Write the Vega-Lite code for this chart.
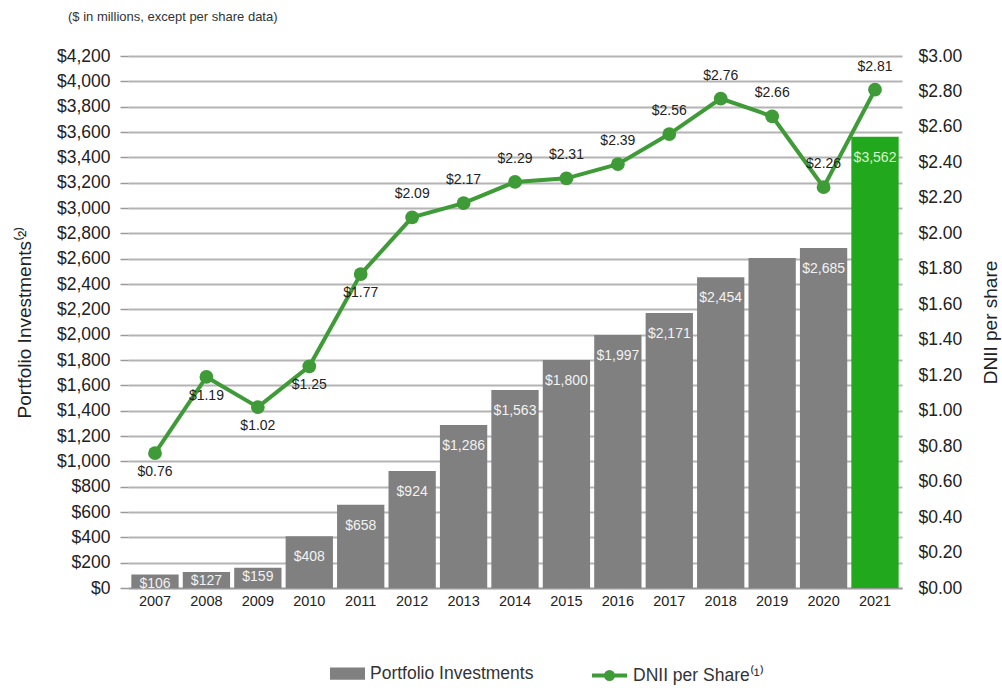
{
  "$schema": "https://vega.github.io/schema/vega-lite/v6.json",
  "autosize": {"type": "none"},
  "width": 774,
  "height": 532,
  "padding": {"left": 128, "top": 56, "right": 100, "bottom": 100},
  "background": "white",
  "config": {
    "font": "Liberation Sans",
    "view": {"stroke": null},
    "legend": {"padding": 0}
  },
  "title": {
    "text": "($ in millions, except per share data)",
    "anchor": "start",
    "frame": "group",
    "orient": "top",
    "dx": -60,
    "offset": 23,
    "fontSize": 13,
    "fontWeight": "normal",
    "color": "#333333",
    "font": "Liberation Sans"
  },
  "data": {
    "values": [
      {"year": "2007", "inv": 106, "dnii": 0.76, "lab": "$106"},
      {"year": "2008", "inv": 127, "dnii": 1.19, "lab": "$127"},
      {"year": "2009", "inv": 159, "dnii": 1.02, "lab": "$159"},
      {"year": "2010", "inv": 408, "dnii": 1.25, "lab": "$408"},
      {"year": "2011", "inv": 658, "dnii": 1.77, "lab": "$658"},
      {"year": "2012", "inv": 924, "dnii": 2.09, "lab": "$924"},
      {"year": "2013", "inv": 1286, "dnii": 2.17, "lab": "$1,286"},
      {"year": "2014", "inv": 1563, "dnii": 2.29, "lab": "$1,563"},
      {"year": "2015", "inv": 1800, "dnii": 2.31, "lab": "$1,800"},
      {"year": "2016", "inv": 1997, "dnii": 2.39, "lab": "$1,997"},
      {"year": "2017", "inv": 2171, "dnii": 2.56, "lab": "$2,171"},
      {"year": "2018", "inv": 2454, "dnii": 2.76, "lab": "$2,454"},
      {"year": "2019", "inv": 2605, "dnii": 2.66, "lab": ""},
      {"year": "2020", "inv": 2685, "dnii": 2.26, "lab": "$2,685"},
      {"year": "2021", "inv": 3562, "dnii": 2.81, "lab": "$3,562"}
    ]
  },
  "encoding": {
    "x": {
      "field": "year",
      "type": "ordinal",
      "scale": {"paddingInner": 0.08, "paddingOuter": 0.065},
      "axis": {
        "title": null,
        "labelAngle": 0,
        "labelFontSize": 14.5,
        "labelColor": "#222222",
        "labelPadding": 6,
        "ticks": false,
        "domainColor": "#999999",
        "domainWidth": 1.5
      }
    }
  },
  "layer": [
    {
      "encoding": {
        "y": {
          "field": "inv",
          "type": "quantitative",
          "scale": {"domain": [0, 4200], "nice": false},
          "axis": {
            "orient": "left",
            "values": [0, 200, 400, 600, 800, 1000, 1200, 1400, 1600, 1800, 2000, 2200, 2400, 2600, 2800, 3000, 3200, 3400, 3600, 3800, 4000, 4200],
            "format": "$,.0f",
            "labelFontSize": 17.5,
            "labelColor": "#222222",
            "labelPadding": 10,
            "tickSize": 8,
            "tickColor": "#999999",
            "tickWidth": 1.5,
            "domain": false,
            "grid": true,
            "gridColor": "#b4b4b4",
            "gridWidth": 2,
            "title": "Portfolio Investments⁽²⁾",
            "titleFontSize": 19,
            "titleFontWeight": "normal",
            "titleColor": "#222222",
            "titlePadding": 22
          }
        }
      },
      "layer": [
        {
          "mark": {"type": "bar"},
          "encoding": {
            "fill": {
              "datum": "Portfolio Investments",
              "scale": {"range": ["#808080"]},
              "condition": {"test": "datum.year === '2021'", "value": "#22a81c"},
              "legend": {
                "orient": "none",
                "legendX": 202,
                "legendY": 600,
                "title": null,
                "symbolType": "M-1,-0.35H1V0.35H-1Z",
                "symbolSize": 1225,
                "symbolStrokeWidth": 0,
                "labelFontSize": 17.5,
                "labelLimit": 400,
                "labelColor": "#333333",
                "labelOffset": 5
              }
            }
          }
        },
        {
          "transform": [{"filter": "datum.inv >= 300"}],
          "mark": {"type": "text", "baseline": "middle", "dy": 21, "fontSize": 14},
          "encoding": {
            "text": {"field": "lab"},
            "color": {"condition": {"test": "datum.year === '2021'", "value": "#d8f5d0"}, "value": "#f2f2f2"}
          }
        },
        {
          "transform": [{"filter": "datum.inv < 300"}],
          "mark": {"type": "text", "baseline": "middle", "dy": 9, "fontSize": 14, "color": "#f2f2f2"},
          "encoding": {
            "text": {"field": "lab"}
          }
        }
      ]
    },
    {
      "encoding": {
        "y": {
          "field": "dnii",
          "type": "quantitative",
          "scale": {"domain": [0, 3], "nice": false},
          "axis": {
            "orient": "right",
            "values": [0, 0.2, 0.4, 0.6, 0.8, 1, 1.2, 1.4, 1.6, 1.8, 2, 2.2, 2.4, 2.6, 2.8, 3],
            "format": "$.2f",
            "labelFontSize": 17.5,
            "labelColor": "#222222",
            "labelPadding": 16,
            "ticks": false,
            "domain": false,
            "grid": false,
            "title": "DNII per share",
            "titleAngle": 270,
            "titleBaseline": "top",
            "titleFontSize": 19,
            "titleFontWeight": "normal",
            "titleColor": "#222222",
            "titlePadding": 20
          }
        }
      },
      "layer": [
        {
          "mark": {"type": "line", "strokeWidth": 4},
          "encoding": {
            "stroke": {
              "datum": "DNII per Share⁽¹⁾",
              "scale": {"range": ["#3f9b37"]},
              "legend": {
                "orient": "none",
                "legendX": 462,
                "legendY": 600,
                "title": null,
                "symbolType": "M-1,0H1M-0.2,0A0.2,0.2,0,1,1,0.2,0A0.2,0.2,0,1,1,-0.2,0Z",
                "symbolSize": 1225,
                "symbolStrokeWidth": 4,
                "symbolFillColor": "#3f9b37",
                "labelFontSize": 17.5,
                "labelLimit": 400,
                "labelColor": "#333333",
                "labelOffset": 4
              }
            }
          }
        },
        {
          "mark": {"type": "point", "filled": true, "size": 190, "opacity": 1, "color": "#3f9b37"},
          "encoding": {}
        },
        {
          "transform": [{"filter": "datum.dnii < 2"}],
          "mark": {"type": "text", "baseline": "middle", "dy": 19, "fontSize": 14, "color": "#222222"},
          "encoding": {
            "text": {"field": "dnii", "format": "$.2f"}
          }
        },
        {
          "transform": [{"filter": "datum.dnii >= 2"}],
          "mark": {"type": "text", "baseline": "middle", "dy": -23, "fontSize": 14, "color": "#222222"},
          "encoding": {
            "text": {"field": "dnii", "format": "$.2f"}
          }
        }
      ]
    }
  ],
  "resolve": {"scale": {"y": "independent", "fill": "independent", "color": "independent", "stroke": "independent"}}
}
